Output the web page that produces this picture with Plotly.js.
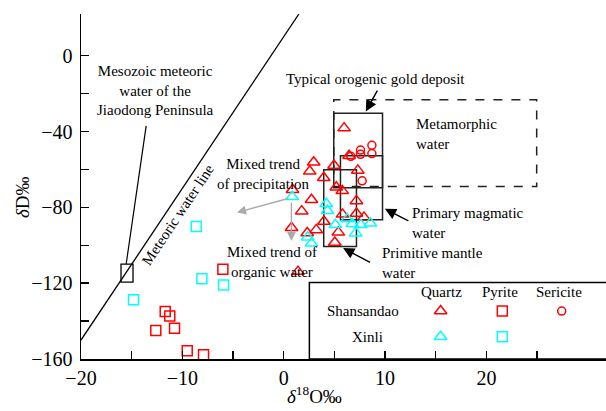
<!DOCTYPE html>
<html><head><meta charset="utf-8">
<script src="https://cdn.plot.ly/plotly-3.0.1.min.js"></script>
<style>html,body{margin:0;padding:0;background:#fff}</style>
</head><body><div id="chart" style="width:606px;height:411px"></div>
<script>
// ---- Data (δ18O ‰, δD ‰) ----
const shanQuartzX = [5.96, 6.45, 2.96, 4.97, 2.57, 7.31, 3.95, 5.19, 5.78, 0.87, 2.74, 7.18, 1.78, 5.80, 7.18, 7.92, 3.97, 3.21, 2.32, 5.39, 0.77, 5.04, 1.41];
const shanQuartzY = [-38.2, -52.8, -56.2, -57.9, -61.0, -60.5, -64.4, -69.4, -71.3, -70.7, -76.0, -76.6, -82.0, -83.7, -83.2, -85.3, -87.5, -91.9, -93.5, -93.2, -90.8, -98.5, -113.9];
const xinQuartzX = [0.84, 4.20, 4.32, 5.09, 6.27, 6.77, 7.61, 8.55, 7.11, 2.37, 2.74];
const xinQuartzY = [-74.4, -78.1, -81.8, -89.2, -86.1, -88.7, -89.2, -88.4, -93.6, -95.8, -99.0];
const shanSericiteX = [6.62, 7.58, 7.58, 8.70, 8.70, 7.74];
const shanSericiteY = [-53.1, -49.8, -52.0, -47.3, -51.6, -66.0];
const shanPyriteX = [-11.69, -11.24, -12.62, -10.77, -9.52, -7.91, -6.00];
const shanPyriteY = [-135.0, -137.3, -145.0, -143.8, -155.6, -157.7, -112.6];
const xinPyriteX = [-8.63, -8.07, -5.93, -14.82];
const xinPyriteY = [-90.1, -117.6, -120.9, -128.7];
// Meteoric water line end points
const mwlX = [-20, 1.5];
const mwlY = [-150, 22];
// Mesozoic meteoric water of the Jiaodong Peninsula
const mesoX = -15.46, mesoY = -114.7;
// Reference fields
const boxNames = ["Metamorphic water", "Typical orogenic gold deposit", "Primary magmatic water", "Primitive mantle water"];
const boxX0 = [4.94, 4.94, 5.60, 3.95];
const boxX1 = [24.96, 9.75, 9.75, 7.18];
const boxY0 = [-69.0, -69.7, -86.6, -100.7];
const boxY1 = [-23.2, -30.3, -52.8, -60.2];
const boxDash = ["dash", "solid", "solid", "solid"];
// Legend
const legendCols = ["Quartz", "Pyrite", "Sericite"];
const legendRows = ["Shansandao", "Xinli"];

const FONT = "Liberation Serif, Times New Roman, serif";
const RED = "#ff0000", CYAN = "#00ffff";

function pts(x, y, sym, col, size, extra) {
  return Object.assign({x: x, y: y, type: "scatter", mode: "markers", showlegend: false, hoverinfo: "skip",
    marker: {symbol: sym, size: size, color: col, line: {color: col, width: 1.5}}}, extra || {});
}
const ov = {xaxis: "x2", yaxis: "y2"};

const traces = [
  {x: mwlX, y: mwlY, type: "scatter", mode: "lines", line: {color: "#000", width: 1.3}, showlegend: false, hoverinfo: "skip"},
  pts(shanPyriteX, shanPyriteY, "square-open", RED, 10),
  pts(xinPyriteX, xinPyriteY, "square-open", CYAN, 10),
  pts(shanSericiteX, shanSericiteY, "circle-open", RED, 8),
  pts(shanQuartzX, shanQuartzY, "triangle-up-open", RED, 11),
  pts(xinQuartzX, xinQuartzY, "triangle-up-open", CYAN, 11),
  // legend symbols on an overlay axis in plot-area fractions
  pts([0.685], [0.139], "triangle-up-open", RED, 11, ov),
  pts([0.8025], [0.139], "square-open", RED, 10, ov),
  pts([0.9156], [0.139], "circle-open", RED, 8, ov),
  pts([0.685], [0.0646], "triangle-up-open", CYAN, 11, ov),
  pts([0.8025], [0.0646], "square-open", CYAN, 10, ov)
];

const shapes = [];
for (let i = 0; i < boxNames.length; i++) {
  shapes.push({type: "rect", xref: "x", yref: "y", x0: boxX0[i], x1: boxX1[i], y0: boxY0[i], y1: boxY1[i],
    line: {color: "#222", width: 1.5, dash: boxDash[i]}, layer: "below"});
}
shapes.push({type: "rect", xref: "x", yref: "y", xsizemode: "pixel", ysizemode: "pixel",
  xanchor: mesoX, yanchor: mesoY, x0: -6, x1: 6, y0: -9, y1: 9, line: {color: "#000", width: 1.3}});
shapes.push({type: "line", xref: "x", yref: "y", x0: -13.57, y0: -37.0, x1: -15.54, y1: -109.8, line: {color: "#000", width: 1.2}});
// legend box
shapes.push({type: "rect", xref: "paper", yref: "paper", x0: 0.435, x1: 1.02, y0: 0, y1: 0.222, line: {color: "#000", width: 1.5}});

function txt(x, y, text, opts) {
  return Object.assign({x: x, y: y, xref: "x", yref: "y", text: text, showarrow: false,
    font: {family: FONT, size: 15, color: "#000"}}, opts || {});
}
function ptxt(x, y, text, size, opts) {
  return Object.assign({x: x, y: y, xref: "paper", yref: "paper", xanchor: "center", yanchor: "middle", text: text, showarrow: false,
    font: {family: FONT, size: size, color: "#000"}}, opts || {});
}
function arrow(x, y, ax, ay, col, size) {
  return {x: x, y: y, ax: ax, ay: ay, xref: "x", yref: "y", axref: "x", ayref: "y", text: "",
    showarrow: true, arrowhead: 2, arrowsize: size, arrowwidth: 1.4, arrowcolor: col, standoff: 0};
}

const annotations = [
  txt(-12.63, -18.5, "Mesozoic meteoric<br>water of the<br>Jiaodong Peninsula"),
  txt(9.04, -12.1, "Typical orogenic gold deposit"),
  txt(12.85, -41.3, "Metamorphic<br>water", {xanchor: "left", align: "left"}),
  txt(-1.98, -62.2, "Mixed trend<br>of precipitation"),
  txt(-1.19, -109.0, "Mixed trend of<br>organic water"),
  txt(-10.47, -83.9, "Meteoric water line", {textangle: -56.4}),
  txt(12.45, -88.3, "Primary magmatic<br>water", {xanchor: "left", align: "left"}),
  txt(9.49, -109.1, "Primitive mantle<br>water", {xanchor: "left", align: "left"}),
  arrow(8.1, -29.4, 9.32, -17.6, "#000", 1.6),
  arrow(9.98, -80.8, 12.45, -87.5, "#000", 1.6),
  arrow(5.86, -101.5, 8.67, -109.5, "#000", 1.6),
  arrow(-4.61, -82.7, 0.59, -75.1, "#aaaaaa", 1.3),
  arrow(0.76, -97.7, 0.76, -76.6, "#aaaaaa", 1.3),
  // legend texts
  ptxt(0.687, 0.195, legendCols[0], 15),
  ptxt(0.799, 0.195, legendCols[1], 15),
  ptxt(0.911, 0.195, legendCols[2], 15),
  ptxt(0.538, 0.139, legendRows[0], 15),
  ptxt(0.546, 0.0646, legendRows[1], 15),
  // axis titles
  ptxt(0.445, -0.105, "<i>δ</i><sup>18</sup>O‰", 19),
  ptxt(-0.11, 0.47, "<i>δ</i>D‰", 19, {textangle: -90})
];

const axisCommon = {showline: true, linecolor: "#000", linewidth: 1.5, ticks: "inside", ticklen: 8, tickwidth: 1.5, tickcolor: "#000",
  showgrid: false, zeroline: false, tickfont: {family: FONT, size: 20, color: "#000"}};

const layout = {
  width: 606, height: 411,
  margin: {l: 81, r: 0, t: 14, b: 52},
  paper_bgcolor: "#fff", plot_bgcolor: "#fff",
  showlegend: false,
  xaxis: Object.assign({}, axisCommon, {range: [-20, 31.8], tickmode: "array", tickvals: [-20, -10, 0, 10, 20],
    minor: {tickmode: "array", tickvals: [-15, -5, 5, 15, 25], ticks: "inside", ticklen: 8, tickwidth: 1.5, tickcolor: "#000"}}),
  yaxis: Object.assign({}, axisCommon, {range: [-160, 22], tickmode: "array", tickvals: [0, -40, -80, -120, -160], ticklabelstandoff: 3,
    minor: {tickmode: "array", tickvals: [-20, -60, -100, -140], ticks: "inside", ticklen: 8, tickwidth: 1.5, tickcolor: "#000"}}),
  xaxis2: {range: [0, 1], overlaying: "x", visible: false, fixedrange: true},
  yaxis2: {range: [0, 1], overlaying: "y", visible: false, fixedrange: true},
  shapes: shapes,
  annotations: annotations,
  font: {family: FONT, color: "#000"}
};

Plotly.newPlot("chart", traces, layout, {displayModeBar: false, staticPlot: true});
</script></body></html>
